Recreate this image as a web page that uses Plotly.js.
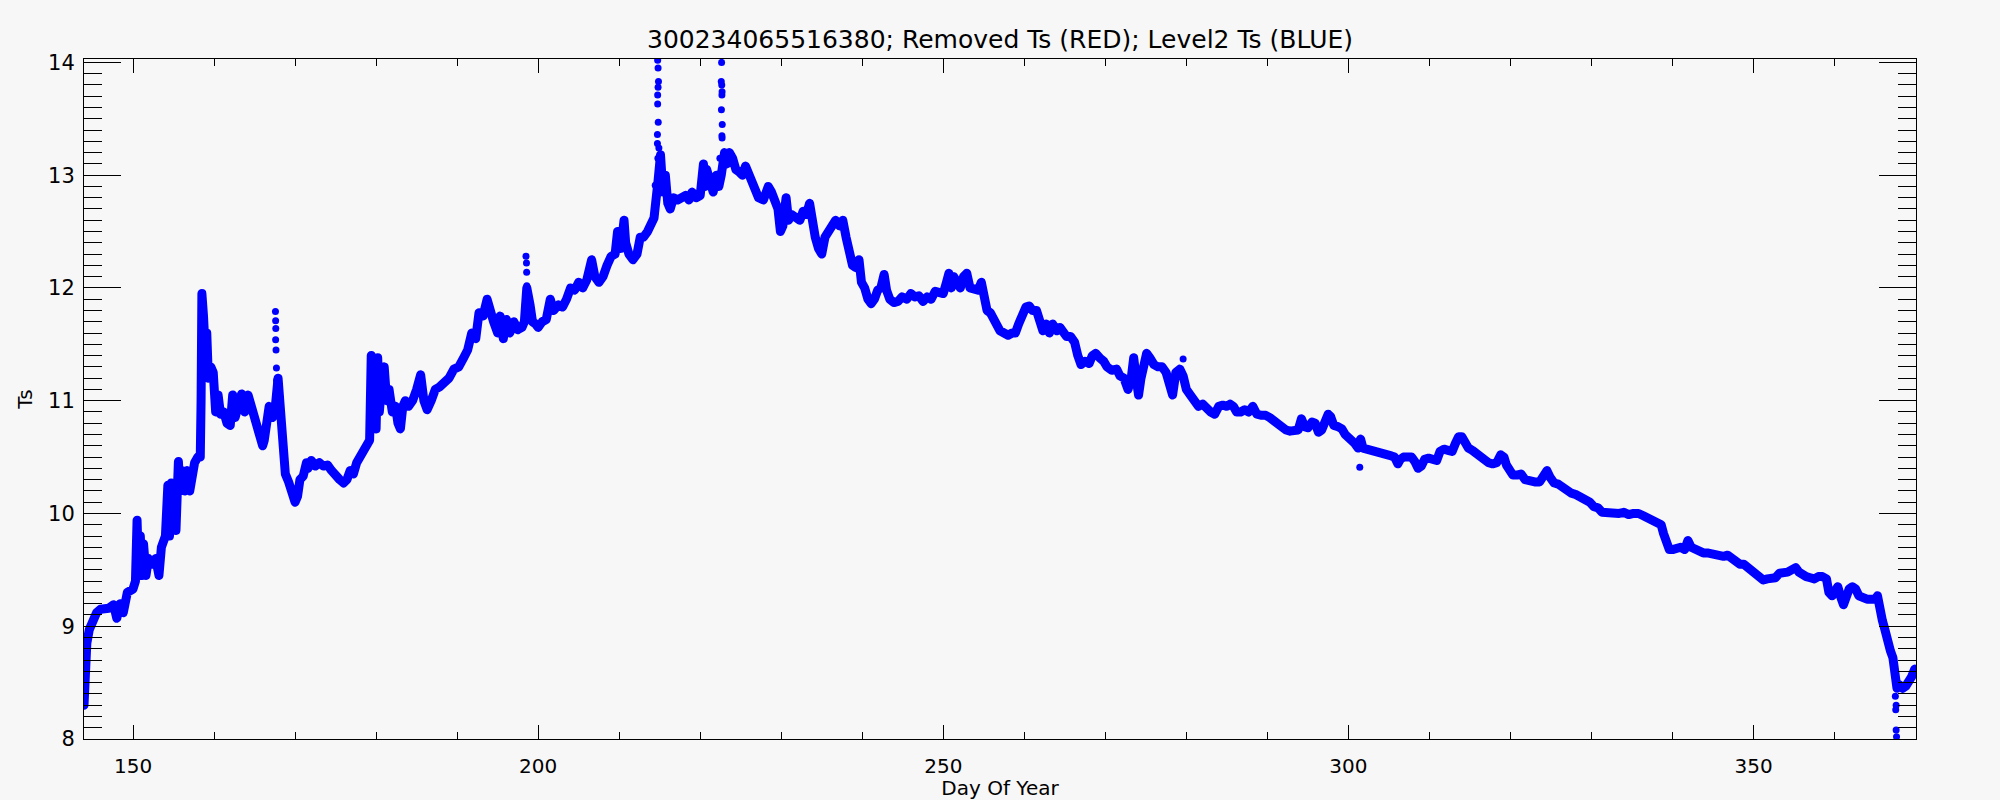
<!DOCTYPE html>
<html>
<head>
<meta charset="utf-8">
<script src="https://cdn.plot.ly/plotly-3.0.1.min.js"></script>
<style>
  html, body { margin: 0; padding: 0; background: #f7f7f7; }
  #chart { width: 2000px; height: 800px; }
  .js-line { stroke-linejoin: round !important; stroke-linecap: round !important; }
</style>
</head>
<body>
<div id="chart"></div>
<script>
// Level2 Ts band (day of year, Ts)
const days = [
143.95,144.0,144.1,144.3,144.6,145.0,145.5,146.0,147.0,147.6,148.0,148.4,148.8,149.3,150.0,150.3,150.5,150.7,150.9,151.1,
151.3,151.6,151.9,152.4,152.8,153.2,153.5,154.0,154.3,154.5,154.7,154.9,155.1,155.3,155.6,155.8,156.1,156.4,156.7,157.0,
157.3,157.6,158.0,158.3,158.4,158.5,158.6,158.7,158.9,159.1,159.3,159.6,159.9,160.2,160.5,160.8,161.2,161.6,162.0,162.3,
162.6,163.0,163.4,163.8,164.2,164.6,165.0,165.5,166.0,166.2,166.5,166.8,167.2,167.5,167.9,168.1,168.3,168.5,168.8,169.2,
169.6,170.0,170.3,170.6,171.0,171.4,171.6,172.0,172.5,173.0,173.5,174.0,174.5,175.0,175.5,176.0,176.4,176.8,177.2,177.6,
178.0,178.4,178.8,179.2,179.4,179.6,179.8,180.0,180.2,180.4,180.7,181.0,181.3,181.6,182.0,182.4,182.7,183.0,183.3,183.6,
184.0,184.5,185.0,185.5,185.9,186.3,186.8,187.3,187.8,188.4,189.0,189.6,190.2,190.8,191.3,191.8,192.3,192.7,193.2,193.7,
194.0,194.5,195.0,195.3,195.7,196.1,196.5,197.0,197.5,198.0,198.3,198.6,199.0,199.3,199.7,200.0,200.5,201.0,201.5,201.9,
202.5,203.0,203.5,204.0,204.5,205.0,205.5,206.0,206.6,207.0,207.5,208.0,208.5,209.0,209.5,209.8,210.2,210.6,210.8,211.2,
211.7,212.2,212.6,213.0,213.5,214.0,214.3,214.8,215.1,215.4,215.7,216.0,216.3,216.7,217.2,217.7,218.2,218.6,219.0,219.5,
220.0,220.4,220.6,220.8,221.2,221.6,222.0,222.3,222.6,223.0,223.3,223.6,224.0,224.4,224.8,225.2,225.6,226.0,226.4,226.8,
227.2,227.8,228.4,228.8,229.2,229.6,229.9,230.2,230.6,230.9,231.3,231.8,232.3,232.7,233.1,233.5,233.8,234.2,234.6,235.0,
235.4,235.8,236.2,236.7,237.2,237.6,238.0,238.4,238.8,239.2,239.6,239.9,240.3,240.7,241.1,241.5,241.9,242.3,242.7,243.0,
243.4,243.9,244.4,244.9,245.5,246.0,246.5,247.0,247.5,248.0,248.5,249.0,249.5,250.0,250.4,250.7,251.0,251.3,251.7,252.1,
252.5,252.9,253.3,253.8,254.3,254.7,255.0,255.4,255.8,256.2,256.6,257.0,257.5,258.0,258.5,258.9,259.3,259.7,260.2,260.6,
261.0,261.5,261.9,262.3,262.7,263.1,263.5,264.0,264.4,264.8,265.2,265.7,266.2,266.6,267.0,267.5,268.0,268.4,268.8,269.3,
269.8,270.2,270.8,271.4,271.8,272.3,272.8,273.2,273.5,273.8,274.1,274.4,274.8,275.1,275.5,276.0,276.5,277.0,277.5,278.0,
278.3,278.7,279.2,279.6,280.0,280.5,281.0,281.5,282.0,282.5,283.0,283.5,284.0,284.5,285.0,285.4,285.8,286.2,286.7,287.2,
287.7,288.2,288.7,289.3,289.8,290.3,290.8,291.3,291.8,292.3,292.8,293.3,293.8,294.2,294.6,295.0,295.5,295.9,296.3,296.7,
297.1,297.5,297.8,298.2,298.7,299.2,299.6,300.0,300.4,300.8,301.2,301.5,301.8,302.3,302.8,303.3,303.8,304.3,304.8,305.3,
305.7,306.1,306.4,306.8,307.3,307.8,308.2,308.6,309.0,309.4,309.9,310.4,310.9,311.3,311.8,312.3,312.8,313.2,313.6,314.0,
314.4,314.8,315.3,315.8,316.3,316.8,317.3,317.8,318.3,318.8,319.2,319.5,319.9,320.3,320.8,321.3,321.8,322.4,323.0,323.6,
324.1,324.5,324.9,325.4,325.9,326.4,326.9,327.5,328.0,328.6,329.2,329.8,330.3,330.8,331.3,332.0,332.7,333.4,334.0,334.6,
335.2,335.8,336.4,337.0,337.6,338.2,338.6,338.9,339.2,339.6,340.0,340.5,341.0,341.5,341.9,342.3,342.8,343.3,343.8,344.3,
344.8,345.3,345.8,346.3,346.8,347.3,347.8,348.3,348.8,349.3,349.8,350.2,350.7,351.2,351.7,352.2,352.7,353.2,353.7,354.2,
354.7,355.2,355.6,356.0,356.5,357.0,357.5,358.0,358.5,359.0,359.3,359.7,360.1,360.4,360.8,361.1,361.4,361.8,362.2,362.6,
363.0,363.5,364.0,364.5,365.0,365.3,365.6,365.9,366.1,366.4,366.7,366.9,367.2,367.4,367.7,368.0,368.4,368.8,369.2,369.5,
369.9
];
const ts = [
8.30,8.55,8.75,8.85,8.97,9.05,9.12,9.15,9.16,9.19,9.07,9.20,9.12,9.30,9.33,9.40,9.94,9.45,9.80,9.45,
9.73,9.45,9.60,9.55,9.60,9.45,9.70,9.80,10.25,9.80,10.27,9.90,10.20,9.85,10.46,10.20,10.38,10.20,10.38,10.20,
10.35,10.45,10.50,10.50,11.00,11.95,11.30,11.75,11.45,11.60,11.20,11.30,11.25,10.90,11.05,10.88,10.90,10.80,10.78,11.05,
10.85,10.95,11.06,10.90,11.05,10.95,10.85,10.70,10.60,10.65,10.85,10.95,10.85,10.90,11.20,10.95,10.75,10.55,10.35,10.28,
10.20,10.10,10.15,10.30,10.33,10.45,10.40,10.47,10.42,10.45,10.42,10.43,10.38,10.33,10.30,10.27,10.30,10.38,10.35,10.45,
10.50,10.55,10.60,10.65,11.40,10.80,11.20,10.75,11.38,10.90,11.15,11.30,11.00,11.10,10.90,10.95,10.80,10.75,10.95,11.00,
10.95,11.00,11.10,11.23,11.00,10.92,11.00,11.10,11.12,11.15,11.20,11.28,11.30,11.38,11.45,11.60,11.55,11.78,11.75,11.90,
11.80,11.70,11.60,11.75,11.55,11.72,11.60,11.70,11.63,11.65,11.70,12.00,11.85,11.70,11.68,11.65,11.70,11.72,11.90,11.80,
11.85,11.83,11.90,12.00,11.98,12.05,12.00,12.07,12.25,12.10,12.05,12.10,12.20,12.28,12.30,12.50,12.35,12.60,12.40,12.30,
12.25,12.30,12.45,12.45,12.50,12.60,12.62,12.95,13.18,12.85,13.00,12.75,12.70,12.80,12.78,12.80,12.82,12.78,12.85,12.80,
12.82,13.10,12.90,13.05,12.95,12.85,13.00,12.90,13.00,13.20,13.10,13.20,13.15,13.05,13.03,13.00,13.08,13.00,12.92,12.85,
12.80,12.78,12.90,12.85,12.75,12.70,12.50,12.55,12.80,12.60,12.65,12.63,12.60,12.68,12.65,12.75,12.60,12.45,12.35,12.30,
12.45,12.50,12.55,12.60,12.55,12.60,12.45,12.30,12.20,12.18,12.25,12.05,12.00,11.90,11.86,11.90,11.98,12.00,12.12,11.98,
11.90,11.87,11.88,11.92,11.90,11.95,11.92,11.93,11.88,11.92,11.90,11.97,11.95,11.95,12.05,12.13,12.00,12.10,12.05,12.00,
12.10,12.13,12.00,11.98,11.98,12.05,11.90,11.80,11.78,11.72,11.68,11.62,11.60,11.58,11.60,11.60,11.68,11.75,11.83,11.84,
11.80,11.80,11.70,11.62,11.68,11.60,11.68,11.62,11.65,11.60,11.57,11.57,11.52,11.40,11.32,11.35,11.33,11.40,11.42,11.38,
11.35,11.30,11.27,11.28,11.22,11.20,11.10,11.20,11.38,11.20,11.05,11.20,11.30,11.42,11.38,11.32,11.30,11.30,11.25,11.10,
11.05,11.25,11.28,11.22,11.10,11.05,10.98,10.95,10.97,10.93,10.90,10.88,10.95,10.96,10.95,10.97,10.95,10.90,10.90,10.92,
10.90,10.95,10.88,10.87,10.87,10.85,10.82,10.80,10.76,10.74,10.73,10.74,10.74,10.84,10.77,10.76,10.81,10.80,10.72,10.74,
10.80,10.88,10.86,10.78,10.77,10.75,10.70,10.68,10.64,10.62,10.58,10.66,10.58,10.57,10.58,10.56,10.55,10.53,10.52,10.51,
10.50,10.44,10.48,10.50,10.50,10.50,10.46,10.40,10.42,10.48,10.49,10.48,10.47,10.55,10.57,10.56,10.55,10.62,10.68,10.68,
10.62,10.58,10.56,10.53,10.50,10.46,10.45,10.44,10.45,10.52,10.50,10.43,10.37,10.34,10.34,10.35,10.30,10.28,10.28,10.28,
10.33,10.38,10.32,10.27,10.26,10.23,10.20,10.18,10.17,10.15,10.12,10.10,10.06,10.05,10.01,10.00,10.01,10.00,10.01,9.99,
10.00,10.00,9.98,9.96,9.95,9.93,9.90,9.82,9.74,9.68,9.68,9.70,9.70,9.68,9.76,9.70,9.68,9.67,9.65,9.65,
9.64,9.65,9.63,9.62,9.63,9.60,9.57,9.55,9.55,9.52,9.48,9.45,9.42,9.41,9.42,9.42,9.43,9.47,9.47,9.48,
9.50,9.52,9.48,9.45,9.44,9.43,9.42,9.44,9.44,9.42,9.30,9.27,9.30,9.35,9.25,9.19,9.25,9.33,9.35,9.33,
9.27,9.25,9.24,9.24,9.24,9.27,9.10,9.05,9.00,8.88,8.85,8.78,8.72,8.55,8.45,8.48,8.45,8.47,8.50,8.55,
8.62
];
// isolated / sparse points (spikes and outliers)
const dotDays = [
167.40,167.58,167.60,167.62,167.60,167.65,167.70,167.72,167.62,
198.50,198.56,198.58,198.60,198.40,
214.75,214.80,214.85,214.80,214.75,214.75,214.82,214.72,214.72,214.90,214.78,214.45,214.40,
222.64,222.60,222.66,222.70,222.68,222.62,222.72,222.68,222.70,222.43,
279.60,301.40,
367.50,367.60,367.55,367.60,367.65
];
const dotTs = [
10.92,11.79,11.71,11.64,11.54,11.45,11.29,11.18,11.05,
12.28,12.22,12.14,12.02,11.85,
14.02,13.95,13.83,13.78,13.71,13.63,13.47,13.36,13.28,13.24,13.15,12.91,12.66,
14.00,13.83,13.80,13.74,13.71,13.58,13.45,13.35,13.33,13.15,
11.37,10.41,
8.38,8.30,8.26,8.08,8.02
];
const titleText = "300234065516380; Removed Ts (RED); Level2 Ts (BLUE)";
const xTitle = "Day Of Year";
const yTitle = "Ts";

const blue = "#0000ff";
const traces = [
  { x: days, y: ts, type: "scatter", mode: "lines",
    line: { color: blue, width: 9 }, hoverinfo: "skip" },
  { x: dotDays, y: dotTs, type: "scatter", mode: "markers",
    marker: { color: blue, size: 7 }, hoverinfo: "skip" }
];

const fontFam = "DejaVu Sans, Liberation Sans, sans-serif";
const layout = {
  width: 2000, height: 800,
  paper_bgcolor: "#f7f7f7", plot_bgcolor: "#f7f7f7",
  showlegend: false,
  margin: { l: 84, r: 84, t: 59, b: 61, pad: 0 },
  font: { family: fontFam, color: "#000", size: 20 },
  title: { text: titleText, x: 0.5, xanchor: "center", y: 1 - 39 / 800, yref: "container",
           yanchor: "middle", font: { family: fontFam, size: 25, color: "#000" } },
  xaxis: {
    range: [143.95, 370.05], tick0: 150, dtick: 50, tickmode: "linear",
    showgrid: false, zeroline: false, showline: true, linecolor: "#000", linewidth: 1,
    mirror: "ticks", ticks: "inside", ticklen: 14, tickwidth: 1, tickcolor: "#000",
    tickfont: { family: fontFam, size: 20 }, ticklabelstandoff: 9,
    minor: { dtick: 10, tick0: 150, ticks: "inside", ticklen: 7, tickwidth: 1, tickcolor: "#000", showgrid: false },
    title: { text: xTitle, font: { family: fontFam, size: 20 }, standoff: 12 }
  },
  yaxis: {
    range: [8, 14.03], tick0: 8, dtick: 1, tickmode: "linear",
    showgrid: false, zeroline: false, showline: true, linecolor: "#000", linewidth: 1,
    mirror: "ticks", ticks: "inside", ticklen: 37, tickwidth: 1, tickcolor: "#000",
    tickfont: { family: fontFam, size: 21 }, ticklabelstandoff: 4,
    minor: { dtick: 0.1, tick0: 8, ticks: "inside", ticklen: 18, tickwidth: 1, tickcolor: "#000", showgrid: false },
    title: { text: yTitle, font: { family: fontFam, size: 20 }, standoff: 10 }
  }
};

Plotly.newPlot("chart", traces, layout, { staticPlot: true, displayModeBar: false });
</script>
</body>
</html>
